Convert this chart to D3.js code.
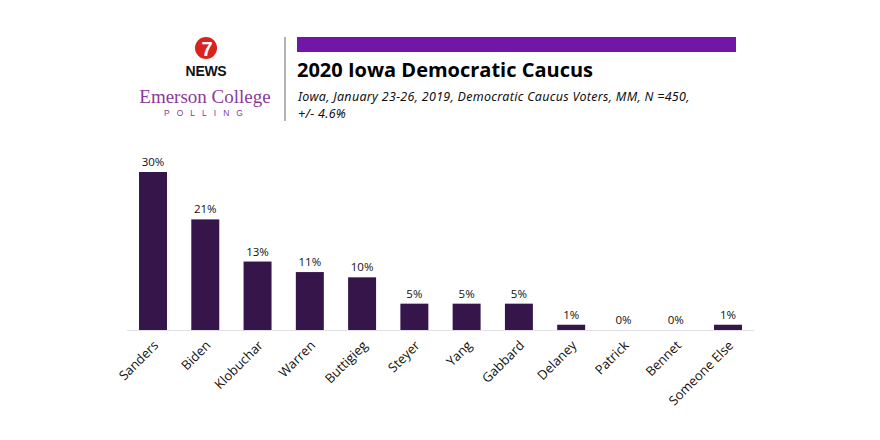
<!DOCTYPE html>
<html>
<head>
<meta charset="utf-8">
<script src="https://cdn.jsdelivr.net/npm/d3@7"></script>
<style>
  body { margin: 0; background: #fff; }
  svg { display: block; }
</style>
</head>
<body>
<div id="chart"></div>
<script>
const candidates = ["Sanders", "Biden", "Klobuchar", "Warren", "Buttigieg", "Steyer",
    "Yang", "Gabbard", "Delaney", "Patrick", "Bennet", "Someone Else"];
const support = [30, 21, 13, 11, 10, 5, 5, 5, 1, 0, 0, 1];
const title = "2020 Iowa Democratic Caucus";
const subtitleLines = ["Iowa, January 23-26, 2019, Democratic Caucus Voters, MM, N =450,", "+/-  4.6%"];

const width = 880, height = 440;
const svg = d3.select("#chart").append("svg")
    .attr("width", width)
    .attr("height", height);

// header: logo block
const logo = svg.append("g");
logo.append("circle")
    .attr("cx", 206).attr("cy", 48).attr("r", 11)
    .attr("fill", "#d8231f");
logo.append("text")
    .attr("x", 207).attr("y", 56)
    .attr("text-anchor", "middle")
    .attr("fill", "#fff")
    .style("font-family", "Liberation Sans, Arial, sans-serif")
    .style("font-weight", "bold")
    .style("font-size", "20px")
    .text("7");
logo.append("text")
    .attr("x", 206).attr("y", 76)
    .attr("text-anchor", "middle")
    .attr("fill", "#111")
    .style("font-family", "Liberation Sans, Arial, sans-serif")
    .style("font-weight", "bold")
    .style("font-size", "14px")
    .style("letter-spacing", "-0.3px")
    .text("NEWS");
logo.append("text")
    .attr("x", 205).attr("y", 103)
    .attr("text-anchor", "middle")
    .attr("fill", "#8a3a9c")
    .style("font-family", "Liberation Serif, Times New Roman, serif")
    .style("font-size", "19px")
    .text("Emerson College");
logo.append("text")
    .attr("x", 207).attr("y", 116)
    .attr("text-anchor", "middle")
    .attr("fill", "#8a3a9c")
    .style("font-family", "Liberation Sans, Arial, sans-serif")
    .style("font-size", "8.5px")
    .style("letter-spacing", "7px")
    .text("POLLING");

svg.append("line")
    .attr("x1", 285).attr("x2", 285)
    .attr("y1", 37).attr("y2", 121)
    .attr("stroke", "#9a9a9a")
    .attr("stroke-width", 1.5);

svg.append("rect")
    .attr("x", 297).attr("y", 37)
    .attr("width", 439).attr("height", 15)
    .attr("fill", "#7116a6");

svg.append("text")
    .attr("x", 297).attr("y", 77)
    .attr("fill", "#000")
    .style("font-family", "Open Sans, Noto Sans, sans-serif")
    .style("font-weight", "bold")
    .style("font-size", "20px")
    .text(title);

svg.append("g").selectAll("text")
    .data(subtitleLines)
    .join("text")
    .attr("x", 298)
    .attr("y", (d, i) => 101 + i * 17)
    .attr("fill", "#111")
    .style("font-family", "Noto Sans, Open Sans, sans-serif")
    .style("font-style", "italic")
    .style("font-size", "12.5px")
    .style("letter-spacing", "0.3px")
    .text(d => d);

// chart
const xScale = d3.scaleBand()
    .domain(candidates)
    .range([127, 754])
    .paddingInner(0.465)
    .paddingOuter(0.23);
const yScale = d3.scaleLinear().domain([0, 30]).range([330, 172]);

svg.append("line")
    .attr("x1", 127).attr("x2", 754)
    .attr("y1", 330.5).attr("y2", 330.5)
    .attr("stroke", "#e4e0e8")
    .attr("stroke-width", 1.2);

svg.append("g").selectAll("rect")
    .data(candidates)
    .join("rect")
    .attr("x", d => xScale(d))
    .attr("width", xScale.bandwidth())
    .attr("y", (d, i) => yScale(support[i]))
    .attr("height", (d, i) => yScale(0) - yScale(support[i]))
    .attr("fill", "#36154a");

svg.append("g").selectAll("text")
    .data(candidates)
    .join("text")
    .attr("x", d => xScale(d) + xScale.bandwidth() / 2)
    .attr("y", (d, i) => yScale(support[i]) - 6)
    .attr("text-anchor", "middle")
    .attr("fill", "#111")
    .style("font-family", "Open Sans, Noto Sans, sans-serif")
    .style("font-size", "11.5px")
    .text((d, i) => support[i] + "%");

const xAxis = d3.axisBottom(xScale).tickSize(0).tickPadding(0);
const axisG = svg.append("g")
    .attr("transform", "translate(0,330)")
    .call(xAxis);
axisG.select(".domain").remove();
axisG.selectAll("text")
    .attr("transform", "translate(3,13) rotate(-45)")
    .attr("text-anchor", "end")
    .attr("dy", "0.35em")
    .attr("fill", "#111")
    .style("font-family", "Open Sans, Noto Sans, sans-serif")
    .style("font-size", "13px");
</script>
</body>
</html>
